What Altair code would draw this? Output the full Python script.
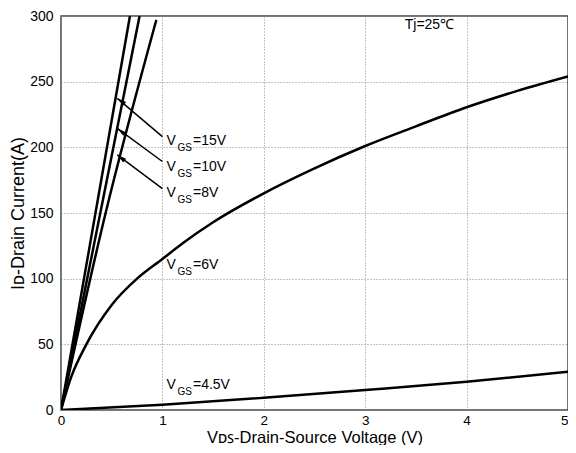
import altair as alt
import pandas as pd

# ---- data ----
vgs15_x = [0.0, 0.68]
vgs15_y = [0.0, 300.0]
vgs10_x = [0.0, 0.775]
vgs10_y = [0.0, 300.0]
vgs8_x = [0.0, 0.44, 0.94]
vgs8_y = [0.0, 150.0, 297.0]
vgs6_x = [0.0, 0.1, 0.25, 0.5, 0.75, 1.0, 1.2, 1.5, 2.0, 2.5, 3.0, 3.5, 4.0, 4.5, 5.0]
vgs6_y = [0.0, 25.0, 50.0, 80.0, 100.0, 115.0, 127.0, 143.0, 165.0, 184.0, 201.0, 216.0, 230.5, 243.0, 254.0]
vgs45_x = [0.0, 1.0, 2.0, 3.0, 4.0, 5.0]
vgs45_y = [0.0, 4.0, 9.3, 15.2, 21.5, 29.2]

label_values = ["15V", "10V", "8V", "6V", "4.5V"]
label_x = [1.04, 1.04, 1.04, 1.04, 1.04]
label_y = [204.8, 185.3, 165.0, 110.4, 19.0]

arrow_x = [1.0, 1.0, 1.0]
arrow_y = [208.2, 189.2, 168.6]
arrow_x2 = [0.555, 0.555, 0.555]
arrow_y2 = [237.3, 214.4, 194.2]

x_ticks = [0, 1, 2, 3, 4, 5]
y_ticks = list(range(0, 301, 25))

temp_text = "Tj=25℃"
temp_x = [3.39]
temp_y = [293.0]

FONT = "Liberation Sans"

rows = []
for name, xs, ys in [("15V", vgs15_x, vgs15_y), ("10V", vgs10_x, vgs10_y), ("8V", vgs8_x, vgs8_y),
                     ("6V", vgs6_x, vgs6_y), ("4.5V", vgs45_x, vgs45_y)]:
    for i, (a, b) in enumerate(zip(xs, ys)):
        rows.append({"series": name, "vds": a, "id": b, "order": i})
curves = pd.DataFrame(rows)

labels = pd.DataFrame({"v": label_values, "x": label_x, "y": label_y})
labels["rest"] = "=" + labels["v"]
arrows = pd.DataFrame({"x": arrow_x, "y": arrow_y, "x2": arrow_x2, "y2": arrow_y2})
temp = pd.DataFrame({"x": temp_x, "y": temp_y, "t": [temp_text]})

xscale = alt.Scale(domain=[0, 5], nice=False, zero=False)
yscale = alt.Scale(domain=[0, 300], nice=False)

xaxis = alt.Axis(values=x_ticks, title="Vᴅꜱ-Drain-Source Voltage (V)", grid=True,
                 gridDash=[1, 2], gridColor="#888888", gridWidth=1, ticks=False, domain=False,
                 labelFontSize=13.5, labelColor="black", labelPadding=3, labelFlush=False,
                 labelOverlap=False,
                 labelAlign={"condition": {"test": "datum.value == 5", "value": "right"}, "value": "center"},
                 titleFontSize=16.5, titleFontWeight="normal",
                 titleColor="black", titleBaseline="alphabetic", titleY=32, format="d")
yaxis = alt.Axis(values=y_ticks, title="Iᴅ-Drain Current(A)", grid=True,
                 gridDash=[1, 2], gridColor="#888888", gridWidth=1, ticks=False, domain=False,
                 labelFontSize=14, labelColor="black", labelPadding=8, labelFlush=False,
                 labelOverlap=False, labelExpr="datum.value % 50 == 0 ? datum.label : ''",
                 titleFontSize=18, titleFontWeight="normal", titleColor="black",
                 titleBaseline="alphabetic", titleAngle=270, titleAlign="center",
                 titleX=-38, titleY=197)

base_lines = alt.Chart(curves).mark_line(color="black", strokeWidth=2.5, interpolate="monotone", clip=True).encode(
    x=alt.X("vds:Q", scale=xscale, axis=xaxis),
    y=alt.Y("id:Q", scale=yscale, axis=yaxis),
    detail="series:N",
    order="order:Q",
)

arrow_lines = alt.Chart(arrows).mark_rule(color="black", strokeWidth=1.5).encode(
    x="x:Q", y="y:Q", x2="x2:Q", y2="y2:Q"
)
arrow_heads = alt.Chart(arrows).mark_point(
    shape="M0,0L0.6,2.4L-0.6,2.4Z", filled=True, color="black", size=60, angle=307, opacity=1
).encode(x="x2:Q", y="y2:Q")

txt_v = alt.Chart(labels).mark_text(text="V", align="left", baseline="middle", fontSize=14,
                                    font=FONT, color="black").encode(x="x:Q", y="y:Q")
txt_gs = alt.Chart(labels).mark_text(text="GS", align="left", baseline="middle", fontSize=10,
                                     font=FONT, color="black", dx=11, dy=7).encode(x="x:Q", y="y:Q")
txt_rest = alt.Chart(labels).mark_text(align="left", baseline="middle", fontSize=14,
                                       font=FONT, color="black", dx=26.5).encode(
    x="x:Q", y="y:Q", text="rest:N")
txt_temp = alt.Chart(temp).mark_text(align="left", baseline="middle", fontSize=14,
                                     font=FONT, color="black").encode(x="x:Q", y="y:Q", text="t:N")

chart = alt.layer(base_lines, arrow_lines, arrow_heads, txt_v, txt_gs, txt_rest, txt_temp).properties(
    width=507, height=394,
    autosize=alt.AutoSizeParams(type="none"),
    padding={"left": 53, "top": 8, "right": 0, "bottom": 35},
).configure(font=FONT).configure_view(stroke="#444444", strokeWidth=1.5).configure_axis(
    labelFont=FONT, titleFont=FONT
)

chart.save("out.html", embed_options={"renderer": "svg", "actions": False})
